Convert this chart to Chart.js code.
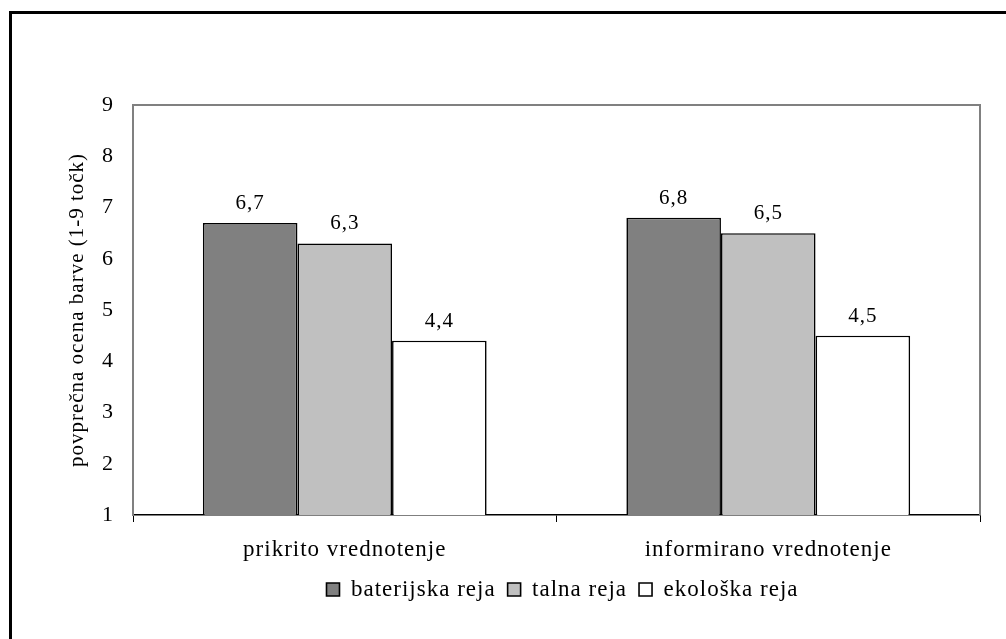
<!DOCTYPE html>
<html>
<head>
<meta charset="utf-8">
<script src="https://cdn.jsdelivr.net/npm/chart.js@4/dist/chart.umd.min.js"></script>
<style>
  html, body { margin: 0; padding: 0; background: #fff; }
  #wrap { position: relative; width: 1006px; height: 639px; overflow: hidden; }
  #frame { position: absolute; left: 9px; top: 11px; width: 1100px; height: 800px;
           border-left: 3px solid #000; border-top: 3px solid #000; box-sizing: border-box; }
  canvas { position: absolute; left: 0; top: 0; }
</style>
</head>
<body>
<div id="wrap">
  <div id="frame"></div>
  <canvas id="c" width="1006" height="639"></canvas>
</div>
<script>
// Categories, series and axis ticks
const categories = ['prikrito vrednotenje', 'informirano vrednotenje'];
const seriesNames = ['baterijska reja', 'talna reja', 'ekološka reja'];
const baterijska = [6.7, 6.8];
const talna = [6.3, 6.5];
const ekoloska = [4.4, 4.5];
const yTickValues = [1, 2, 3, 4, 5, 6, 7, 8, 9];
const yTitle = 'povprečna ocena barve (1-9 točk)';

const FONT = "'Liberation Serif', 'Times New Roman', serif";
const fmt = v => v.toFixed(1).replace('.', ',');

// Slightly loose letter spacing for all chart text
const spacing = {
  id: 'spacing',
  beforeUpdate(chart) { chart.ctx.letterSpacing = '1px'; },
  beforeDraw(chart) { chart.ctx.letterSpacing = '1px'; }
};

// Grey frame on the top and right of the plot area
const plotFrame = {
  id: 'plotFrame',
  beforeDatasetsDraw(chart) {
    const { ctx, chartArea: a } = chart;
    ctx.save();
    ctx.strokeStyle = '#808080';
    ctx.lineWidth = 2;
    ctx.beginPath();
    ctx.moveTo(a.left, a.top);
    ctx.lineTo(a.right, a.top);
    ctx.lineTo(a.right, a.bottom);
    ctx.stroke();
    ctx.restore();
  }
};

// Value labels above each bar
const valueLabels = {
  id: 'valueLabels',
  afterDatasetsDraw(chart) {
    const { ctx } = chart;
    ctx.save();
    ctx.font = '21px ' + FONT;
    ctx.fillStyle = '#000';
    ctx.textAlign = 'center';
    ctx.textBaseline = 'alphabetic';
    chart.data.datasets.forEach((ds, i) => {
      chart.getDatasetMeta(i).data.forEach((bar, j) => {
        ctx.fillText(fmt(ds.data[j]), bar.x, bar.y - 14);
      });
    });
    ctx.restore();
  }
};

// Legend sits a little right of its default slot
const legendOffset = {
  id: 'legendOffset',
  afterLayout(chart) {
    const lg = chart.legend;
    const dx = 45, dy = 3;
    lg.left += dx; lg.right += dx;
    lg.top += dy; lg.bottom += dy;
  }
};

const fills = ['#808080', '#c0c0c0', '#ffffff'];
const seriesData = [baterijska, talna, ekoloska];

new Chart(document.getElementById('c'), {
  type: 'bar',
  data: {
    labels: categories,
    datasets: seriesNames.map((name, i) => ({
      label: name,
      data: seriesData[i],
      backgroundColor: fills[i],
      borderColor: '#000',
      borderWidth: 1.6,
      categoryPercentage: 0.67,
      barPercentage: 1.0
    }))
  },
  options: {
    responsive: false,
    animation: false,
    layout: { padding: { left: 55, right: 26, top: 105, bottom: 31 } },
    plugins: {
      tooltip: { enabled: false },
      legend: {
        position: 'bottom',
        labels: {
          boxWidth: 13, boxHeight: 13, padding: 12,
          color: '#000',
          font: { family: FONT, size: 23 }
        }
      }
    },
    scales: {
      x: {
        offset: true,
        afterFit(scale) { scale.height = 48; },
        grid: { display: true, drawOnChartArea: false, drawTicks: true, tickLength: 7,
                color: '#000', lineWidth: 1, offset: true },
        border: { display: true, color: '#000', width: 1.5 },
        ticks: { color: '#000', padding: 14, font: { family: FONT, size: 23 } }
      },
      y: {
        min: 1, max: 9,
        afterFit(scale) { scale.width = 78; },
        afterBuildTicks(scale) { scale.ticks = yTickValues.map(v => ({ value: v })); },
        grid: { display: false, drawTicks: false },
        border: { display: true, color: '#808080', width: 2 },
        ticks: { color: '#000', padding: 19, font: { family: FONT, size: 22 } },
        title: {
          display: true, text: yTitle, color: '#000',
          padding: { top: 10, bottom: 0 },
          font: { family: FONT, size: 21 }
        }
      }
    }
  },
  plugins: [spacing, plotFrame, valueLabels, legendOffset]
});
</script>
</body>
</html>
